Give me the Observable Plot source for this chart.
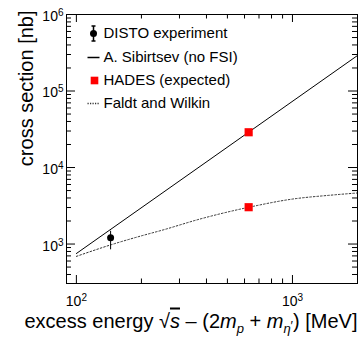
<!DOCTYPE html>
<html><head><meta charset="utf-8">
<script src="https://cdn.jsdelivr.net/npm/d3@7"></script>
<script src="https://cdn.jsdelivr.net/npm/@observablehq/plot@0.6"></script>
<style>
html,body{margin:0;padding:0;background:#fff}
#chart svg{display:block}
</style></head><body><div id="chart"></div>
<script>
// ---- data ----
const distoEnergy = [144];
const distoXsec = [1210];
const distoErrLow = [840];
const distoErrHigh = [1470];

const sibirtsevEnergy = [100, 2000];
const sibirtsevXsec = [752, 291000];

const hadesEnergy = [627, 627];
const hadesXsec = [28900, 3030];

const faldtEnergy = [100, 150, 200, 250, 375, 630, 1000, 1500, 2000];
const faldtXsec = [690, 1010, 1280, 1520, 2130, 3030, 3870, 4350, 4650];

const xMajorTicks = [100, 1000];
const xMinorTicks = [200, 300, 400, 500, 600, 700, 800, 900, 2000];
const yMajorTicks = [1e3, 1e4, 1e5, 1e6];
const yMinorTicks = [400, 500, 600, 700, 800, 900,
  2000, 3000, 4000, 5000, 6000, 7000, 8000, 9000,
  20000, 30000, 40000, 50000, 60000, 70000, 80000, 90000,
  200000, 300000, 400000, 500000, 600000, 700000, 800000, 900000];

const legendLabels = ["DISTO experiment", "A. Sibirtsev (no FSI)", "HADES (expected)", "Faldt and Wilkin"];
const xTitle = "excess energy SQRT_S – (2m_p + m_eta) [MeV]";
const yTitle = "cross section [nb]";

// ---- tables ----
const disto = distoEnergy.map((e, i) => ({e, v: distoXsec[i], lo: distoErrLow[i], hi: distoErrHigh[i]}));
const sibirtsev = sibirtsevEnergy.map((e, i) => ({e, v: sibirtsevXsec[i]}));
const hades = hadesEnergy.map((e, i) => ({e, v: hadesXsec[i]}));
const faldt = faldtEnergy.map((e, i) => ({e, v: faldtXsec[i]}));

const W = 361, H = 337, mL = 66, mR = 4, mT = 14, mB = 54;
const fh = H - mT - mB, fw = W - mL - mR;

const hLine = {draw(ctx, size) { const r = Math.sqrt(size / Math.PI); ctx.moveTo(-r, 0); ctx.lineTo(r, 0); }};
const errSym = {draw(ctx, size) { const r = Math.sqrt(size / Math.PI);
  ctx.moveTo(0, -r); ctx.lineTo(0, r);
  ctx.moveTo(-2, -r); ctx.lineTo(2, -r);
  ctx.moveTo(-2, r); ctx.lineTo(2, r); }};

const supFmt = d => `10^${Math.round(Math.log10(d))}`;
const font = "'Liberation Sans', Arial, Helvetica, sans-serif";

const rowY = [19, 43, 66, 89];

const svg = Plot.plot({
  width: W, height: H,
  marginLeft: mL, marginRight: mR, marginTop: mT, marginBottom: mB,
  style: {fontFamily: font, background: "white", color: "black"},
  x: {type: "log", domain: [90, 2000]},
  y: {type: "log", domain: [305, 1e6]},
  marks: [
    // ticks (inside, all four sides)
    Plot.tickX(xMajorTicks, {x: d => d, insetTop: fh - 8, stroke: "black"}),
    Plot.tickX(xMinorTicks, {x: d => d, insetTop: fh - 4.5, stroke: "black"}),
    Plot.tickX(xMajorTicks, {x: d => d, insetBottom: fh - 8, stroke: "black"}),
    Plot.tickX(xMinorTicks, {x: d => d, insetBottom: fh - 4.5, stroke: "black"}),
    Plot.tickY(yMajorTicks, {y: d => d, insetRight: fw - 9, stroke: "black"}),
    Plot.tickY(yMinorTicks, {y: d => d, insetRight: fw - 5, stroke: "black"}),
    Plot.tickY(yMajorTicks, {y: d => d, insetLeft: fw - 9, stroke: "black"}),
    Plot.tickY(yMinorTicks, {y: d => d, insetLeft: fw - 5, stroke: "black"}),
    Plot.axisX(xMajorTicks, {tickSize: 0, tickPadding: 13, tickFormat: supFmt, fontSize: 14, label: null}),
    Plot.axisY(yMajorTicks, {tickSize: 0, tickPadding: 3, tickFormat: supFmt, fontSize: 14, label: null, dy: 2}),
    // data
    Plot.line(faldt, {x: "e", y: "v", stroke: "#333", strokeWidth: 1, strokeDasharray: "1.6,2", curve: "monotone-x"}),
    Plot.line(sibirtsev, {x: "e", y: "v", stroke: "black", strokeWidth: 1}),
    Plot.ruleX(disto, {x: "e", y1: "lo", y2: "hi", stroke: "black", strokeWidth: 1}),
    Plot.dot(disto, {x: "e", y: "v", r: 3.5, fill: "black", stroke: "none"}),
    Plot.dot(hades, {x: "e", y: "v", symbol: "square", r: 4.6, fill: "#ff0000", stroke: "none"}),
    // legend
    Plot.dot([0], {frameAnchor: "top-left", dx: 27, dy: rowY[0], symbol: errSym, r: 7.5, stroke: "black", fill: "none"}),
    Plot.dot([0], {frameAnchor: "top-left", dx: 27, dy: rowY[0], r: 3.5, fill: "black", stroke: "none"}),
    Plot.dot([0], {frameAnchor: "top-left", dx: 27, dy: rowY[1], symbol: hLine, r: 6, stroke: "black", fill: "none"}),
    Plot.dot([0], {frameAnchor: "top-left", dx: 28, dy: rowY[2], symbol: "square", r: 4.3, fill: "#ff0000", stroke: "none"}),
    Plot.dot([0], {frameAnchor: "top-left", dx: 27, dy: rowY[3], symbol: hLine, r: 6, stroke: "#333", fill: "none", strokeDasharray: "1.2,1.3"}),
    ...legendLabels.map((t, i) => Plot.text([t], {frameAnchor: "top-left", dx: 37, dy: rowY[i], text: d => d, textAnchor: "start", lineAnchor: "middle", fontSize: 15, fill: "black"})),
    // titles
    Plot.text([yTitle], {frameAnchor: "top-left", dx: 32 - mL, dy: 10 - mT, text: d => d, rotate: -90, textAnchor: "end", lineAnchor: "bottom", fontSize: 20, fill: "black"}),
    Plot.text([xTitle], {frameAnchor: "bottom-right", dx: 0, dy: 327 - (H - mB), text: d => d, textAnchor: "end", lineAnchor: "bottom", fontSize: 20, fill: "black"}),
    Plot.frame({stroke: "black", strokeWidth: 1})
  ]
});

// superscripts on tick labels, rich x title
d3.select(svg).selectAll("text").each(function() {
  const el = d3.select(this);
  const m = /^10\^(\d)$/.exec(this.textContent);
  if (m) {
    el.text("10");
    el.append("tspan").attr("dy", "-0.5em").attr("font-size", "10px").text(m[1]);
  }
  if (this.textContent === xTitle) {
    el.text("");
    const add = (t, o = {}) => { const s = el.append("tspan").text(t); for (const k in o) s.attr(k, o[k]); return s; };
    add("excess energy ");
    add("√");
    add("s", {"font-style": "italic", "text-decoration": "overline"});
    add(" – (2");
    add("m", {"font-style": "italic"});
    add("p", {"font-style": "italic", "font-size": "13px", dy: 5});
    add(" + ", {dy: -5});
    add("m", {"font-style": "italic"});
    add("η", {"font-style": "italic", "font-size": "13px", dy: 5});
    add("′", {"font-size": "13px", dy: -3});
    add(") [MeV]", {dy: -2});
  }
});

document.getElementById("chart").appendChild(svg);
</script>
</body></html>
